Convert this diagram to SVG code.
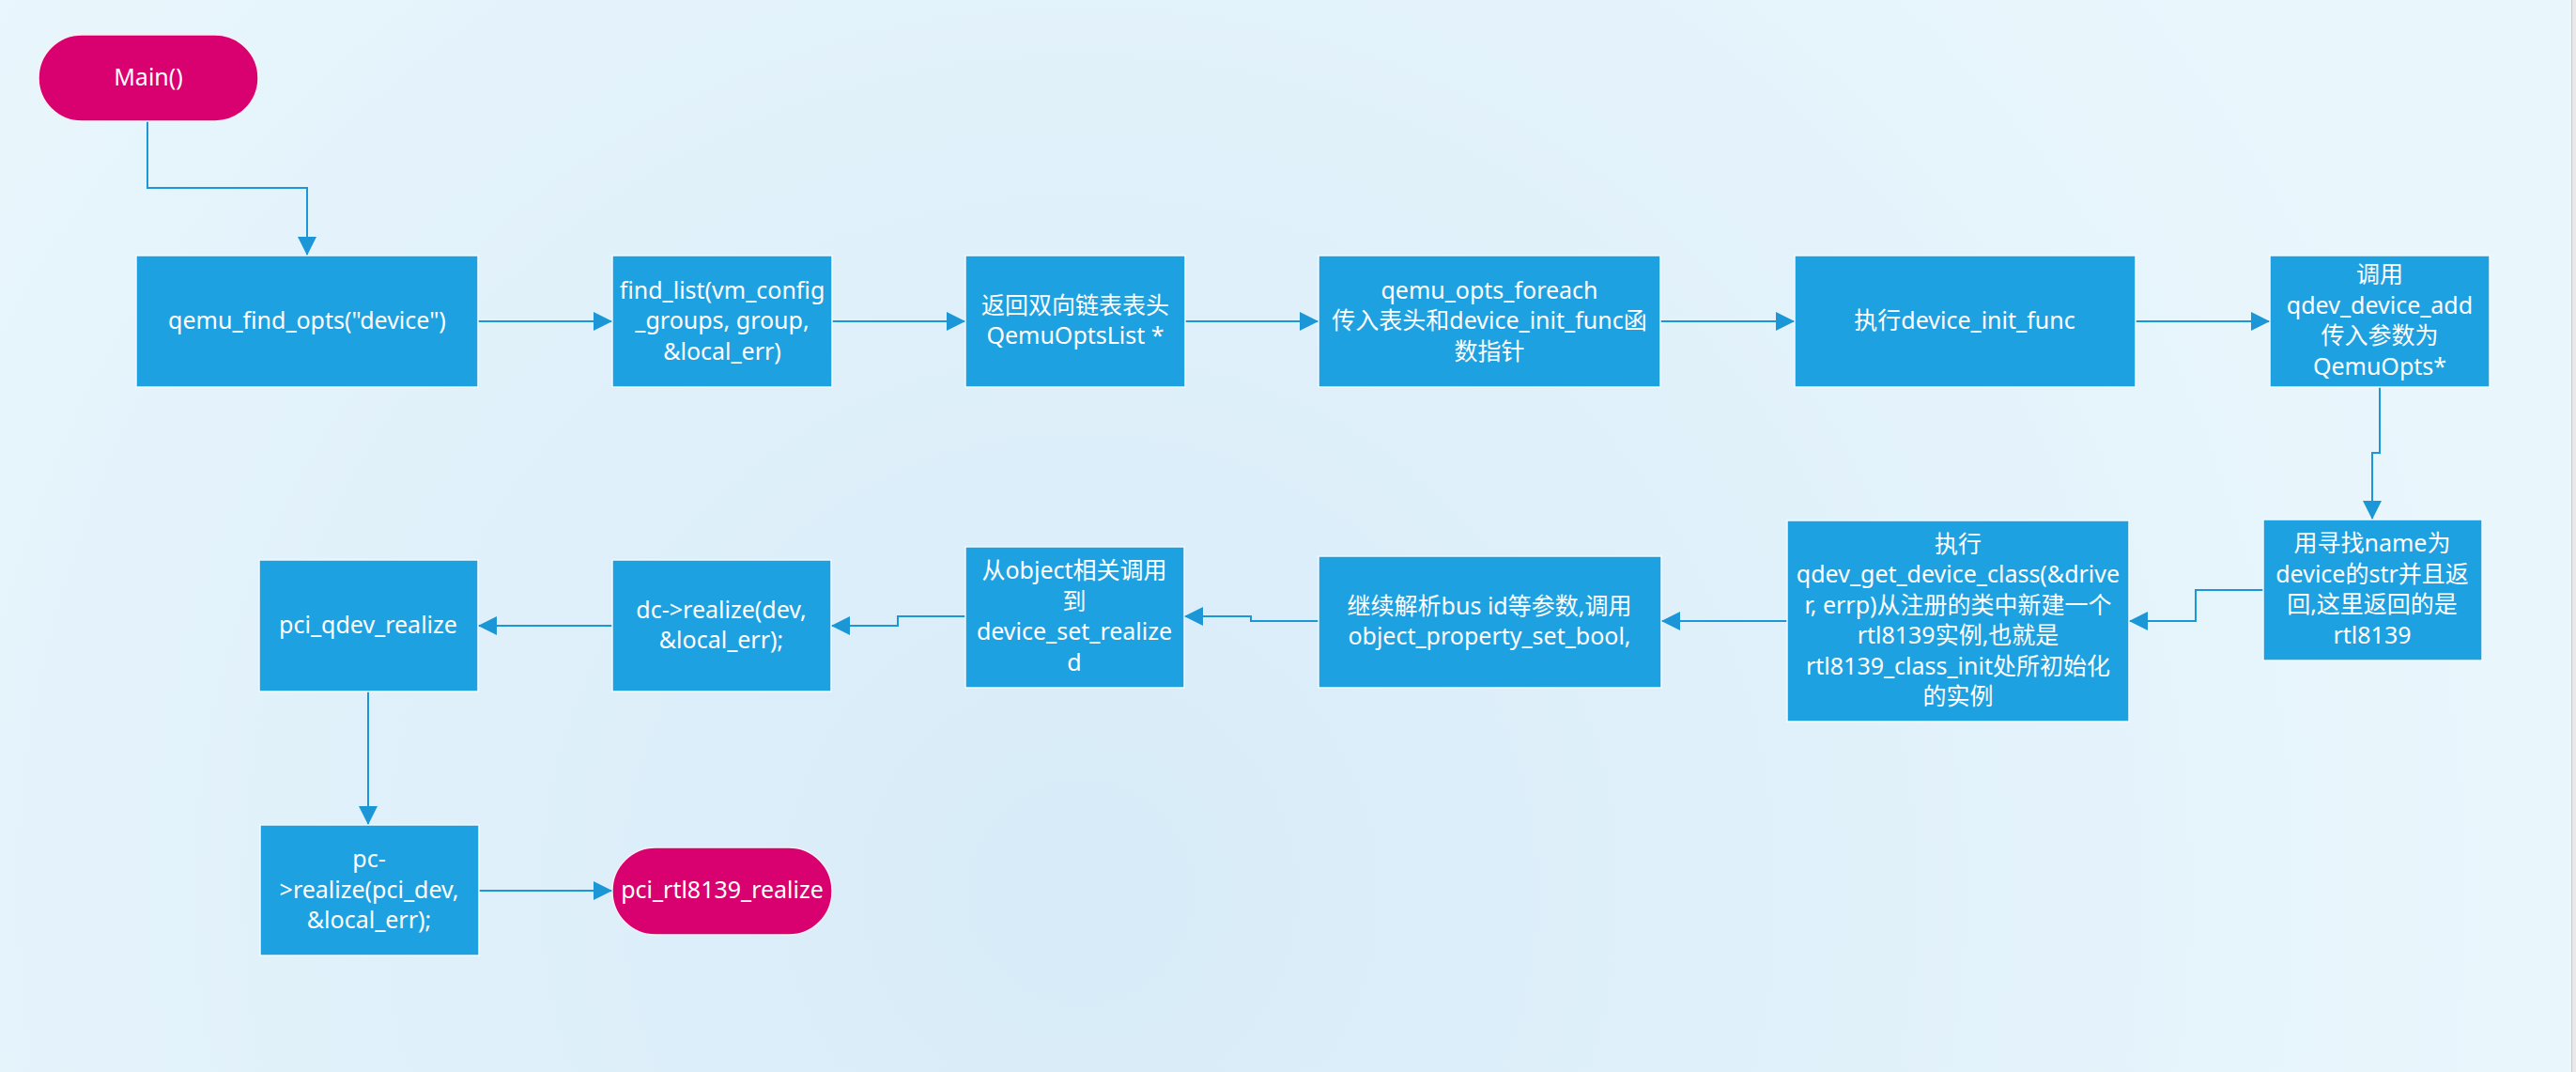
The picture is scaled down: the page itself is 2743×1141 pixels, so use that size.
<svg xmlns="http://www.w3.org/2000/svg" width="2743" height="1141" viewBox="0 0 2743 1141">
<defs>
<radialGradient id="bg" cx="1150" cy="950" r="1500" gradientUnits="userSpaceOnUse">
<stop offset="0" stop-color="#d7ebf8"/>
<stop offset="1" stop-color="#e9f6fc"/>
</radialGradient>
<marker id="arr" markerUnits="userSpaceOnUse" markerWidth="20" markerHeight="20" refX="20" refY="10" orient="auto">
<path d="M0,0 L20,10 L0,20 z" fill="#1b96d6"/>
</marker>
<style>
.box{fill:#1ea1e1;stroke:#f2f9fd;stroke-width:1.5}
.term{fill:#d9006f;stroke:#f6f0f4;stroke-width:1.5}
.t{font-family:"Noto Sans","Noto Sans CJK SC",sans-serif;font-size:25px;fill:#ffffff;text-anchor:middle}
.c{fill:none;stroke:#1b96d6;stroke-width:2;marker-end:url(#arr)}
</style>
</defs>
<rect x="0" y="0" width="2743" height="1141" fill="url(#bg)"/>
<rect x="2738" y="0" width="5" height="1141" fill="#e8e8e8"/>
<line x1="2738.5" y1="0" x2="2738.5" y2="1141" stroke="#c9c9c9" stroke-width="1"/>

<g id="connectors">
<path class="c" d="M157,129 V200 H327 V272"/>
<path class="c" d="M509,342 H652"/>
<path class="c" d="M886,342 H1028"/>
<path class="c" d="M1262,342 H1404"/>
<path class="c" d="M1768,342 H1911"/>
<path class="c" d="M2274,342 H2417"/>
<path class="c" d="M2534,412 V482 H2526 V553"/>
<path class="c" d="M2410,628 H2338 V661 H2267"/>
<path class="c" d="M1903,661 H1769"/>
<path class="c" d="M1404,661 H1332 V656 H1261"/>
<path class="c" d="M1028,656 H956 V666 H885"/>
<path class="c" d="M652,666 H509"/>
<path class="c" d="M392,736 V878"/>
<path class="c" d="M510,948 H652"/>
</g>

<g id="main">
<rect class="term" x="41" y="37" width="234" height="92" rx="46" ry="46"/>
<text class="t" x="158" y="91">Main()</text>
</g>

<g id="n1">
<rect class="box" x="145" y="272" width="364" height="140"/>
<text class="t" x="327" y="350">qemu_find_opts("device")</text>
</g>

<g id="n2">
<rect class="box" x="652" y="272" width="234" height="140"/>
<text class="t" x="769" y="318">find_list(vm_config</text>
<text class="t" x="769" y="350">_groups, group,</text>
<text class="t" x="769" y="383">&amp;local_err)</text>
</g>

<g id="n3">
<rect class="box" x="1028" y="272" width="234" height="140"/>
<text class="t" x="1145" y="334">返回双向链表表头</text>
<text class="t" x="1145" y="366">QemuOptsList *</text>
</g>

<g id="n4">
<rect class="box" x="1404" y="272" width="364" height="140"/>
<text class="t" x="1586" y="318">qemu_opts_foreach</text>
<text class="t" x="1586" y="350">传入表头和device_init_func函</text>
<text class="t" x="1586" y="383">数指针</text>
</g>

<g id="n5">
<rect class="box" x="1911" y="272" width="363" height="140"/>
<text class="t" x="2092" y="350">执行device_init_func</text>
</g>

<g id="n6">
<rect class="box" x="2417" y="272" width="234" height="140"/>
<text class="t" x="2534" y="301">调用</text>
<text class="t" x="2534" y="334">qdev_device_add</text>
<text class="t" x="2534" y="366">传入参数为</text>
<text class="t" x="2534" y="399">QemuOpts*</text>
</g>

<g id="n7">
<rect class="box" x="2410" y="553" width="233" height="150"/>
<text class="t" x="2526" y="587">用寻找name为</text>
<text class="t" x="2526" y="620">device的str并且返</text>
<text class="t" x="2526" y="652">回,这里返回的是</text>
<text class="t" x="2526" y="685">rtl8139</text>
</g>

<g id="n8">
<rect class="box" x="1903" y="554" width="364" height="214"/>
<text class="t" x="2085" y="588">执行</text>
<text class="t" x="2085" y="620">qdev_get_device_class(&amp;drive</text>
<text class="t" x="2085" y="653">r, errp)从注册的类中新建一个</text>
<text class="t" x="2085" y="685">rtl8139实例,也就是</text>
<text class="t" x="2085" y="718">rtl8139_class_init处所初始化</text>
<text class="t" x="2085" y="750">的实例</text>
</g>

<g id="n9">
<rect class="box" x="1404" y="592" width="365" height="140"/>
<text class="t" x="1586" y="654">继续解析bus id等参数,调用</text>
<text class="t" x="1586" y="686">object_property_set_bool,</text>
</g>

<g id="n10">
<rect class="box" x="1028" y="582" width="233" height="150"/>
<text class="t" x="1144" y="616">从object相关调用</text>
<text class="t" x="1144" y="649">到</text>
<text class="t" x="1144" y="681">device_set_realize</text>
<text class="t" x="1144" y="714">d</text>
</g>

<g id="n11">
<rect class="box" x="652" y="596" width="233" height="140"/>
<text class="t" x="768" y="658">dc-&gt;realize(dev,</text>
<text class="t" x="768" y="690">&amp;local_err);</text>
</g>

<g id="n12">
<rect class="box" x="276" y="596" width="233" height="140"/>
<text class="t" x="392" y="674">pci_qdev_realize</text>
</g>

<g id="n13">
<rect class="box" x="277" y="878" width="233" height="139"/>
<text class="t" x="393" y="923">pc-</text>
<text class="t" x="393" y="956">&gt;realize(pci_dev,</text>
<text class="t" x="393" y="988">&amp;local_err);</text>
</g>

<g id="n14">
<rect class="term" x="652" y="902" width="234" height="93" rx="46" ry="46"/>
<text class="t" x="769" y="956">pci_rtl8139_realize</text>
</g>
</svg>
